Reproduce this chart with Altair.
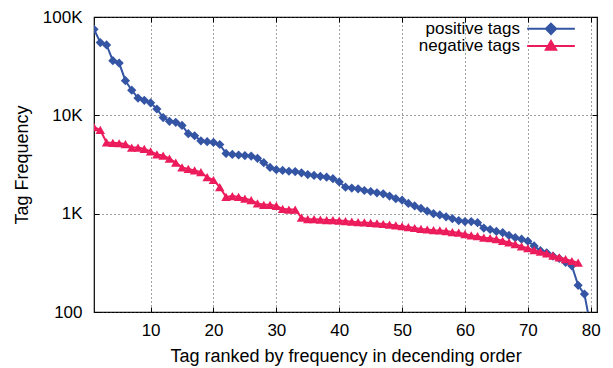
import altair as alt
import pandas as pd

# ---- data ----
series_names = ["positive tags", "negative tags"]

pos_rank = list(range(1, 81))
pos_freq = [75000, 55000, 52000, 36000, 34000, 22500, 18000, 15000, 14200, 13400,
            11600, 9500, 8700, 8500, 7900, 6500, 6200, 5500, 5400, 5300,
            5050, 4100, 4000, 3950, 3900, 3850, 3650, 3300, 2950, 2800,
            2750, 2700, 2680, 2600, 2500, 2450, 2400, 2350, 2270, 2100,
            1860, 1820, 1790, 1720, 1680, 1630, 1590, 1510, 1420, 1370,
            1270, 1200, 1130, 1060, 1000, 970, 930, 890, 850, 830,
            830, 810, 713, 690, 660, 640, 600, 570, 550, 525,
            470, 420, 400, 370, 350, 320, 295, 187, 152, 70]

neg_rank = list(range(1, 79))
neg_freq = [7600, 7100, 5300, 5250, 5200, 5100, 4700, 4700, 4550, 4300,
            4000, 3900, 3630, 3300, 2950, 2850, 2750, 2650, 2350, 2200,
            1860, 1480, 1510, 1480, 1420, 1370, 1270, 1230, 1230, 1200,
            1120, 1100, 1100, 910, 880, 880, 870, 860, 860, 850,
            840, 830, 820, 815, 805, 795, 785, 775, 760, 745,
            730, 715, 700, 690, 680, 675, 665, 650, 640, 620,
            600, 590, 570, 565, 550, 530, 510, 490, 465, 445,
            425, 410, 395, 375, 360, 345, 330, 318]

x_ticks = [10, 20, 30, 40, 50, 60, 70, 80]
y_ticks = [100, 1000, 10000, 100000]

pos_df = pd.DataFrame({"rank": pos_rank, "freq": pos_freq, "series": series_names[0]})
neg_df = pd.DataFrame({"rank": neg_rank, "freq": neg_freq, "series": series_names[1]})

BLUE = "#3454a4"
PINK = "#ec1c5c"
FONT = "Liberation Sans"
FS_TICK = 17
FS_TITLE = 18
FS_LEGEND = 17

x_scale = alt.Scale(domain=[1, 81], nice=False, zero=False)
y_scale = alt.Scale(type="log", domain=[100, 100000], nice=False)

label_expr = ("datum.value >= 1000 ? format(datum.value / 1000, 'd') + 'K' "
              ": format(datum.value, 'd')")

common_axis = dict(tickSize=5, tickColor="black", tickWidth=1, offset=-5,
                   domain=False, labelFont=FONT, labelFontSize=FS_TICK,
                   labelColor="black", titleFont=FONT, titleFontSize=FS_TITLE,
                   titleFontWeight="normal", titleColor="black",
                   gridDash=[1, 3], gridColor="#444", gridWidth=1)

x_main = alt.Axis(orient="bottom", values=x_ticks, labelPadding=10,
                  title="Tag ranked by frequency in decending order",
                  titlePadding=9, grid=True, labelFlush=False, **common_axis)
y_main = alt.Axis(orient="left", values=y_ticks, labelExpr=label_expr,
                  labelPadding=12, title="Tag Frequency", titlePadding=11,
                  grid=True, **common_axis)
x_mirror = alt.Axis(orient="top", values=x_ticks, labels=False, title=None,
                    grid=False, **common_axis)
y_mirror = alt.Axis(orient="right", values=y_ticks, labels=False, title=None,
                    grid=False, **common_axis)

pos_path = "M-5.3,0L5.3,0M0,-1.15L1.15,0L0,1.15L-1.15,0Z"
neg_path = "M-5.3,0L5.3,0M0,-1.1L1.15,0.85L-1.15,0.85Z"


def legend(path, color, ly):
    return alt.Legend(title=None, orient="none", legendX=448.5, legendY=ly,
                      symbolType=path, symbolSize=81, symbolStrokeWidth=2,
                      symbolStrokeColor=color, symbolFillColor=color,
                      symbolOpacity=1, labelAlign="right",
                      labelOffset=alt.ExprRef(expr="-39.5"),
                      labelFont=FONT, labelFontSize=FS_LEGEND, labelColor="black",
                      padding=0)


line_pos = alt.Chart(pos_df).mark_line(color=BLUE, strokeWidth=2, clip=True).encode(
    x=alt.X("rank:Q", scale=x_scale, axis=x_main),
    y=alt.Y("freq:Q", scale=y_scale, axis=y_main),
)
pt_pos = alt.Chart(pos_df).mark_point(filled=True, shape="diamond", size=85,
                                      opacity=1, clip=True).encode(
    x=alt.X("rank:Q", scale=x_scale, axis=None),
    y=alt.Y("freq:Q", scale=y_scale, axis=None),
    color=alt.Color("series:N",
                    scale=alt.Scale(domain=[series_names[0]], range=[BLUE]),
                    legend=legend(pos_path, BLUE, 3.3)),
)
line_neg = alt.Chart(neg_df).mark_line(color=PINK, strokeWidth=2, clip=True).encode(
    x=alt.X("rank:Q", scale=x_scale, axis=x_mirror),
    y=alt.Y("freq:Q", scale=y_scale, axis=y_mirror),
)
pt_neg = alt.Chart(neg_df).mark_point(filled=True, shape="triangle-up", size=90,
                                      opacity=1, clip=True).encode(
    x=alt.X("rank:Q", scale=x_scale, axis=None),
    y=alt.Y("freq:Q", scale=y_scale, axis=None),
    color=alt.Color("series:N",
                    scale=alt.Scale(domain=[series_names[1]], range=[PINK]),
                    legend=legend(neg_path, PINK, 20.5)),
)

chart = (
    alt.layer(line_pos, pt_pos, line_neg, pt_neg)
    .resolve_scale(color="independent")
    .resolve_axis(x="independent", y="independent")
    .properties(width=503, height=295,
                padding={"left": 86, "top": 9, "right": 8, "bottom": 55},
                autosize=alt.AutoSizeParams(type="none"))
    .configure_view(stroke="black", strokeWidth=1.2)
)

chart.save("out.html", embed_options={"renderer": "svg", "actions": False})
